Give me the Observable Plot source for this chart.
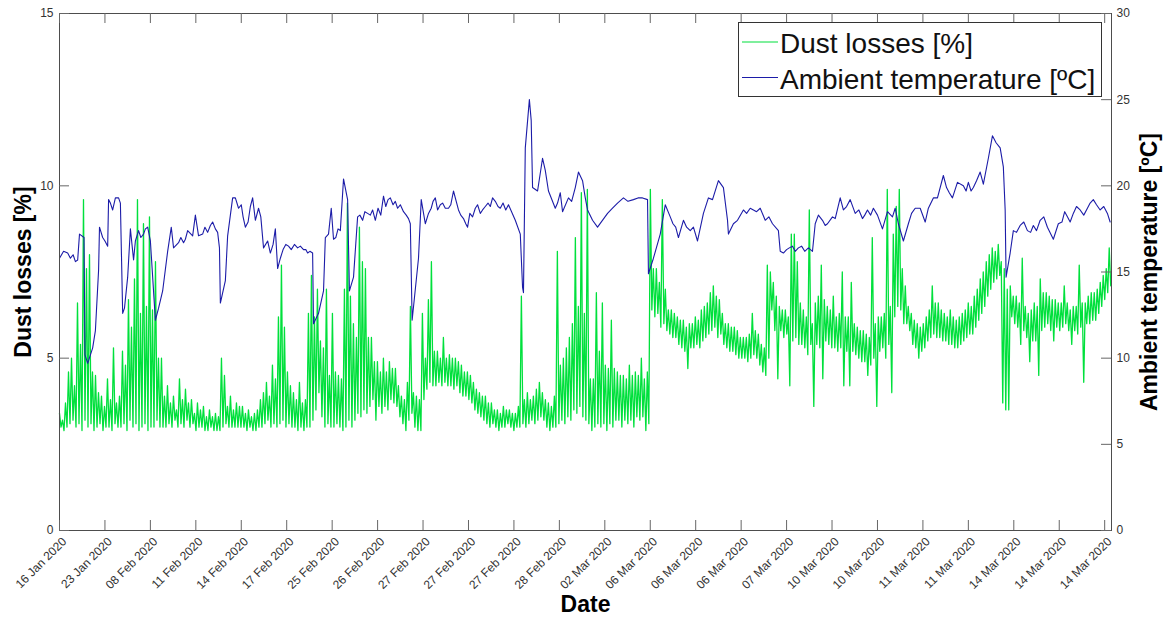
<!DOCTYPE html>
<html><head><meta charset="utf-8">
<script src="https://cdn.jsdelivr.net/npm/d3@7"></script>
<script src="https://cdn.jsdelivr.net/npm/@observablehq/plot@0.6"></script>
<style>
body{margin:0;background:#fff;}
#wrap{position:relative;width:1166px;height:623px;font-family:"Liberation Sans",Arial,sans-serif;}
#legend{position:absolute;left:738px;top:22px;}
</style></head><body><div id="wrap"><svg id="legend" width="365" height="76"></svg></div>
<script>
// x positions are sample numbers; one date label every 100 samples
const xTicks = [0,100,200,300,400,500,600,700,800,900,1000,1100,1200,1300,1400,1500,1600,1700,1800,1900,2000,2100,2200,2300];
const dateLabels = ["16 Jan 2020","23 Jan 2020","08 Feb 2020","11 Feb 2020","14 Feb 2020","17 Feb 2020","25 Feb 2020","26 Feb 2020","27 Feb 2020","27 Feb 2020","27 Feb 2020","28 Feb 2020","02 Mar 2020","06 Mar 2020","06 Mar 2020","06 Mar 2020","07 Mar 2020","10 Mar 2020","10 Mar 2020","11 Mar 2020","11 Mar 2020","14 Mar 2020","14 Mar 2020","14 Mar 2020"];
const lossTicks = [0,5,10,15];
const tempTicks = [0,5,10,15,20,25,30];
const lastSample = 2315;

// Dust losses [%]: local maximum and minimum of every block of 6.6 samples
const dustBlock = 6.6;
const dustHigh = [
3.4,3.2,3.7,4.6,5.0,4.2,6.6,5.4,9.6,7.6,
8.0,4.6,4.5,4.0,3.9,3.6,4.4,3.8,5.3,3.7,
3.9,5.2,4.8,6.7,5.9,7.3,9.6,6.3,8.9,6.5,
9.1,6.4,7.8,5.0,5.0,3.9,4.2,3.7,3.9,3.5,
4.4,3.8,4.1,3.7,3.8,3.4,3.7,3.5,3.6,3.3,
3.5,3.3,3.4,3.3,5.0,4.5,3.6,3.9,3.5,3.7,
3.6,3.6,3.4,3.5,3.3,3.4,3.5,3.8,4.0,4.3,
3.9,4.8,4.4,6.2,7.7,5.9,4.6,4.2,4.0,3.8,
4.3,3.7,3.8,6.3,7.4,6.2,7.0,5.5,5.3,7.0,
4.5,6.3,4.6,4.5,4.4,7.0,9.5,6.8,6.0,5.6,
8.8,7.8,7.6,5.6,5.6,4.9,4.9,4.6,5.0,4.6,
4.9,4.7,4.7,4.2,3.9,3.8,4.3,6.5,4.0,3.9,
3.8,6.3,5.0,6.7,7.8,5.2,5.2,5.0,5.6,5.0,
5.1,5.0,5.0,4.9,4.8,4.6,4.6,4.5,4.3,4.1,
4.0,3.9,3.9,3.7,3.7,3.5,3.5,3.4,3.6,3.5,
3.5,3.4,3.4,3.6,6.8,3.8,4.0,3.8,3.9,4.1,
4.3,4.0,3.8,3.7,3.6,3.9,8.1,4.8,5.0,5.3,
5.6,6.0,8.5,6.5,9.8,6.3,9.9,4.4,4.4,6.9,
5.2,6.6,4.8,4.7,6.1,4.7,4.6,4.5,4.5,4.4,
4.8,4.5,4.6,4.5,5.0,4.4,4.6,9.9,7.6,7.6,
7.2,9.6,7.0,6.4,6.4,6.3,6.2,6.1,6.1,5.9,
6.0,6.0,6.2,6.1,6.4,6.5,6.6,6.9,7.1,6.8,
6.7,6.3,6.0,6.0,5.9,5.9,5.8,5.6,5.6,5.6,
5.7,6.3,5.8,5.7,5.4,5.3,7.7,7.5,7.2,6.8,
6.5,6.4,6.4,6.2,8.6,8.6,7.8,6.6,6.4,6.2,
9.3,6.0,6.6,6.8,7.7,6.7,6.5,6.4,6.8,6.2,
6.3,7.5,6.2,6.2,7.2,6.0,5.9,5.8,5.8,5.7,
5.6,8.5,6.0,6.2,6.2,6.3,9.9,6.5,8.6,9.4,
9.9,7.6,7.1,6.5,6.3,6.1,6.0,5.9,6.0,6.2,
6.4,7.1,6.6,6.6,6.4,6.3,6.2,6.4,6.2,6.1,
6.2,6.3,6.4,6.6,6.5,6.8,7.0,7.3,7.5,7.8,
8.0,8.2,8.1,8.3,7.8,7.6,7.0,7.1,6.8,6.8,
6.6,7.9,6.5,6.3,6.4,6.6,6.5,7.3,6.9,6.9,
6.8,6.7,6.7,6.6,6.6,7.1,6.6,6.4,6.5,6.5,
7.7,6.6,6.6,6.8,6.9,6.9,7.0,7.2,7.4,7.6,8.2
];
const dustLow = [
3.0,2.9,3.0,3.1,3.2,3.0,3.1,2.9,3.2,3.0,
3.1,2.9,3.0,3.1,2.9,3.0,3.0,2.9,3.1,3.0,
3.0,3.1,2.9,3.2,3.0,3.1,2.9,3.0,3.1,2.9,
3.0,3.0,3.2,3.0,3.0,3.0,3.1,3.0,3.2,3.0,
3.1,3.0,3.2,3.0,3.1,2.9,3.0,3.0,2.9,2.9,
3.0,2.9,2.9,2.9,3.0,3.1,3.0,3.0,3.0,3.0,
3.0,3.0,2.9,3.0,2.9,2.9,3.0,3.0,3.1,3.2,
3.0,3.1,3.0,3.1,3.2,3.0,3.1,3.0,3.0,2.9,
3.0,2.9,3.0,3.0,3.2,3.5,4.0,3.3,3.0,3.1,
3.0,3.0,3.1,3.0,2.9,3.0,3.2,3.0,3.2,3.4,
3.3,3.5,3.4,3.6,3.8,3.2,3.6,3.4,3.6,3.5,
3.8,3.7,3.6,3.3,3.1,2.9,3.2,3.4,3.0,2.9,
2.9,3.8,4.1,4.3,4.2,4.2,4.3,4.2,4.3,4.2,
4.2,4.1,4.2,4.0,3.9,3.9,3.8,3.7,3.5,3.4,
3.3,3.2,3.1,3.0,3.1,3.0,2.9,3.0,3.0,3.1,
3.0,2.9,3.0,3.0,3.1,3.0,3.1,3.2,3.1,3.2,
3.3,3.2,3.0,2.9,3.0,3.0,3.1,3.2,3.1,3.3,
3.2,3.5,3.4,3.6,3.3,3.2,3.1,2.9,3.0,3.1,
3.0,3.1,2.9,3.1,3.0,3.2,3.2,3.0,3.2,3.1,
3.2,3.0,3.3,3.2,3.3,2.9,3.1,6.4,6.2,6.3,
5.9,6.0,5.8,5.7,5.6,5.6,5.4,5.3,5.2,4.7,
5.3,5.3,5.4,5.3,5.5,5.6,5.7,5.8,5.9,5.6,
5.7,5.4,5.3,5.2,5.2,5.1,5.0,5.0,5.0,4.9,
5.0,5.1,5.0,4.8,4.6,4.5,5.0,6.4,5.8,4.4,
5.8,5.6,5.7,4.2,5.5,5.6,5.4,5.4,5.3,5.1,
5.4,3.6,5.4,5.3,4.4,5.5,5.4,5.3,5.3,5.2,
5.3,4.2,5.2,4.2,5.2,5.1,5.0,4.9,4.9,4.5,
4.8,5.0,3.6,5.2,5.3,5.0,5.4,4.0,6.2,6.5,
6.4,6.0,6.0,5.8,5.4,5.3,5.0,5.2,5.3,5.5,
5.6,5.7,5.6,5.6,5.5,5.5,5.4,5.4,5.3,5.3,
5.4,5.5,5.6,5.7,5.7,5.9,6.1,6.3,6.5,6.8,
7.0,7.2,7.3,7.4,3.7,3.5,3.5,6.2,6.0,5.9,
5.4,5.8,5.6,4.9,5.5,5.5,4.5,5.8,5.9,6.0,
5.8,5.5,5.9,5.8,5.9,6.0,5.8,5.4,5.8,5.7,
5.9,4.3,6.0,6.0,6.1,6.1,6.3,6.5,6.7,6.9,7.1
];

// Ambient temperature [ºC]: [sample, value] at the turning points
const tempReadings = [
[0,15.8],[9,16.2],[18,16.1],[24,15.8],[40,15.7],[44,17.2],[54,17.0],[56,10.2],[62,9.7],[73,10.6],
[79,11.6],[86,15.1],[88,17.6],[95,17.0],[106,16.5],[108,19.2],[117,18.6],[123,19.3],[130,19.3],[134,19.0],
[139,12.6],[143,12.9],[150,14.7],[156,17.5],[163,15.7],[167,16.8],[174,17.4],[185,17.2],[194,17.6],[200,16.8],
[211,12.2],[218,12.9],[227,13.9],[238,16.2],[246,17.6],[251,16.4],[262,16.7],[273,16.7],[282,17.4],[293,17.1],
[299,18.3],[306,17.1],[315,17.2],[332,17.7],[348,17.3],[352,16.4],[354,13.2],[365,14.5],[370,17.1],[381,19.3],
[387,19.3],[394,18.7],[409,17.6],[425,19.3],[431,18.0],[438,18.7],[449,16.4],[458,16.8],[464,16.1],[475,17.5],
[480,15.2],[486,15.8],[504,16.5],[524,16.4],[546,16.1],[557,16.1],[559,12.0],[570,12.6],[581,13.9],[585,17.0],
[592,17.2],[598,18.7],[603,16.9],[618,17.4],[625,20.4],[634,19.2],[638,13.9],[647,14.7],[656,18.2],[667,18.0],
[678,18.4],[689,18.6],[695,18.0],[713,19.4],[728,19.3],[744,18.7],[757,18.5],[772,17.8],[776,12.2],[790,15.8],
[796,19.2],[805,17.8],[812,18.4],[827,19.3],[843,19.0],[856,18.7],[867,19.7],[878,18.6],[898,17.6],[915,18.7],
[931,18.6],[953,19.3],[970,18.7],[988,18.9],[1003,18.0],[1014,17.2],[1019,14.1],[1021,13.8],[1025,22.2],[1034,25.0],
[1038,23.8],[1041,19.9],[1052,19.7],[1063,21.6],[1069,20.9],[1076,19.7],[1091,18.7],[1102,19.6],[1107,18.5],[1120,19.3],
[1135,19.9],[1142,20.8],[1151,20.3],[1157,19.3],[1162,18.6],[1184,17.6],[1206,18.4],[1228,19.0],[1241,19.3],[1263,19.2],
[1283,19.3],[1294,19.2],[1296,14.9],[1307,15.8],[1322,17.2],[1333,18.9],[1344,18.2],[1362,17.0],[1373,18.0],[1388,17.4],
[1404,16.8],[1417,18.4],[1428,19.3],[1437,19.2],[1450,20.3],[1461,19.9],[1470,18.0],[1472,17.2],[1483,17.8],[1492,18.0],
[1505,18.6],[1527,18.6],[1542,18.7],[1553,18.0],[1569,17.8],[1582,17.4],[1586,16.2],[1593,16.1],[1613,16.5],[1626,16.4],
[1648,16.4],[1657,16.2],[1663,17.8],[1679,18.0],[1690,17.8],[1701,18.2],[1707,18.1],[1718,19.3],[1725,18.6],[1740,19.2],
[1751,18.4],[1767,18.1],[1778,18.6],[1791,18.7],[1800,18.3],[1811,17.5],[1822,18.5],[1833,18.2],[1839,18.7],[1846,17.8],
[1857,16.8],[1868,17.8],[1883,18.7],[1894,18.7],[1905,17.9],[1912,18.7],[1923,19.3],[1932,19.3],[1945,20.6],[1965,19.3],
[1976,20.2],[1989,20.0],[2011,19.9],[2026,20.8],[2033,20.1],[2044,21.6],[2053,22.9],[2061,22.5],[2070,22.2],[2077,21.1],
[2081,18.6],[2083,14.7],[2092,16.1],[2099,17.4],[2114,17.7],[2130,17.4],[2143,17.7],[2158,18.0],[2174,17.6],[2187,16.9],
[2198,17.8],[2218,18.2],[2231,18.4],[2246,18.6],[2262,18.7],[2275,19.2],[2290,18.6],[2306,18.4],[2312,17.9]
];
// Ambient temperature [ºC]: small wiggles read between the turning points
const tempReadingsFine = [
[30,16.0],[35,15.6],[100,16.8],[112,19.0],[179,17.0],[189,17.5],[267,17.0],[277,16.9],[320,17.6],[326,17.3],
[337,17.9],[343,17.5],[400,18.9],[404,18.2],[415,17.9],[420,18.8],[443,18.2],[470,16.6],[492,16.3],[498,16.6],
[510,16.3],[517,16.6],[530,16.5],[537,16.3],[542,16.3],[551,16.2],[608,17.0],[613,17.5],[661,18.3],[672,18.5],
[684,18.3],[701,18.7],[707,18.3],[718,18.8],[723,19.2],[734,18.9],[739,19.1],[750,18.9],[763,18.3],[768,18.1],
[818,18.7],[822,19.1],[832,18.6],[838,18.9],[849,18.7],[861,18.9],[883,18.3],[889,18.1],[894,17.8],[903,18.4],
[909,18.2],[920,18.9],[926,18.4],[937,18.8],[943,19.0],[948,18.8],[959,19.1],[965,18.8],[976,19.0],[982,18.6],
[1096,19.0],[1127,19.1],[1173,18.0],[1217,18.7],[1251,19.1],[1273,19.3],[1350,17.8],[1356,17.6],[1380,17.6],[1395,17.6],
[1512,18.4],[1520,18.7],[1534,18.5],[1561,18.2],[1600,16.3],[1606,16.4],[1619,16.2],[1633,16.5],[1640,16.2],[1670,18.3],
[1685,17.7],[1732,18.8],[1759,18.6],[1772,18.3],[1785,18.3],[1875,18.4],[1952,19.9],[1958,19.6],[1995,19.7],[2000,20.2],
[2006,19.7],[2018,20.3],[2106,17.3],[2122,17.9],[2137,17.3],[2150,17.4],[2166,18.2],[2206,17.9],[2212,18.5],[2224,17.9],
[2238,18.8],[2254,18.3],[2268,19.0],[2282,18.9],[2298,18.8]
];

const GREEN = "#00e03c", BLUE = "#1c1ca8";
const FONT = "'Liberation Sans', Arial, Helvetica, sans-serif";

const dust = dustHigh.flatMap((h, i) => [
  {s: i * dustBlock, v: h},
  {s: i * dustBlock + dustBlock / 2, v: dustLow[i]}
]);
const temp = tempReadings.concat(tempReadingsFine)
  .map(([s, t]) => ({s, t}))
  .sort((a, b) => a.s - b.s);
const tempToLoss = t => t / 2; // right axis 0–30 ºC maps onto left 0–15 %

const chart = Plot.plot({
  width: 1166, height: 623,
  marginLeft: 59, marginRight: 55, marginTop: 13, marginBottom: 93,
  style: {fontFamily: FONT, fontSize: "12px", color: "#333", background: "transparent"},
  x: {domain: [0, lastSample]},
  y: {domain: [0, 15]},
  marks: [
    Plot.line(dust, {x: "s", y: "v", stroke: GREEN, strokeWidth: 1.3}),
    Plot.line(temp, {x: "s", y: d => tempToLoss(d.t), stroke: BLUE, strokeWidth: 1.1}),
    Plot.frame({stroke: "#4d4d4d", strokeWidth: 1}),
    // inward ticks (box style)
    Plot.tickX(xTicks, {x: d => d, insetTop: 507, stroke: "#666"}),
    Plot.tickX(xTicks, {x: d => d, insetBottom: 507, stroke: "#666"}),
    Plot.tickY(lossTicks, {y: d => d, insetRight: 1042, stroke: "#666"}),
    Plot.tickY(tempTicks, {y: d => tempToLoss(d), insetLeft: 1042, stroke: "#666"}),
    Plot.axisX({ticks: xTicks, tickFormat: d => dateLabels[xTicks.indexOf(d)], tickSize: 0, tickPadding: 6,
      tickRotate: -45, label: null, fontSize: 12, color: "#333", dx: 5, dy: 3}),
    Plot.axisY({anchor: "left", ticks: lossTicks, tickSize: 0, tickPadding: 6, label: null, fontSize: 12, color: "#333"}),
    Plot.axisY({anchor: "right", ticks: tempTicks.map(tempToLoss), tickFormat: d => String(d * 2), tickSize: 0,
      tickPadding: 5, label: null, fontSize: 12, color: "#333"}),
    Plot.text(["Dust losses [%]"], {frameAnchor: "left", textAnchor: "middle", dx: -36, rotate: -90, fontSize: 23, fontWeight: "bold", fill: "#000"}),
    Plot.text(["Ambient temperature [ºC]"], {frameAnchor: "right", textAnchor: "middle", dx: 38, rotate: -90, fontSize: 23, fontWeight: "bold", fill: "#000"}),
    Plot.text(["Date"], {frameAnchor: "bottom", dy: 81, fontSize: 23, fontWeight: "bold", fill: "#000"})
  ]
});
document.getElementById("wrap").prepend(chart);

// legend inside the plot area
const lg = d3.select("#legend");
lg.append("rect").attr("x", 0.5).attr("y", 0.5).attr("width", 363).attr("height", 74)
  .attr("fill", "#fff").attr("stroke", "#333");
const items = [{label: "Dust losses [%]", color: GREEN}, {label: "Ambient temperature [ºC]", color: BLUE}];
items.forEach((it, k) => {
  const cy = 20 + k * 35.5;
  lg.append("line").attr("x1", 4).attr("x2", 40).attr("y1", cy).attr("y2", cy)
    .attr("stroke", it.color).attr("stroke-width", 1.2);
  lg.append("text").attr("x", 42).attr("y", cy + 11).attr("font-family", FONT).attr("font-size", 28)
    .attr("fill", "#111").text(it.label);
});
</script></body></html>
